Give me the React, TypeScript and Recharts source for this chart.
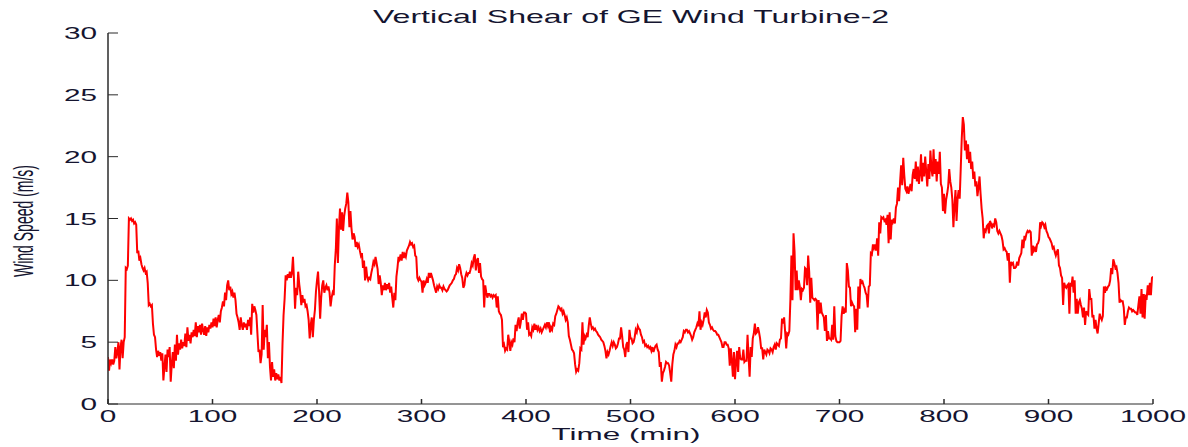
import React from "react";
import { LineChart, Line, XAxis, YAxis } from "recharts";

// Wind speed (m/s), one value per minute; each block starts at the given minute.
const speedFrom0 = [
  3.8, 2.7, 3.6, 3.3, 3.6, 3.2, 3.5, 4.6, 3.7, 4.2,
  5.0, 2.8, 4.6, 5.2, 3.7, 5.0, 5.4, 11.0, 10.9, 11.2,
  15.0, 14.9, 15.0, 14.8, 14.9, 14.6, 14.7, 14.5, 12.2, 12.4,
  11.6, 11.8, 11.3, 11.0, 10.8, 11.0, 10.6, 10.7, 9.8, 8.0,
  8.1, 7.9, 8.0, 6.5, 5.6, 5.4, 4.4, 3.8, 4.3, 3.9,
  4.2, 3.5, 4.1, 1.9, 3.0, 4.0, 2.6, 4.4, 3.8, 4.6,
  1.8, 3.2, 4.2, 2.9, 4.8, 3.5, 5.6, 4.0, 4.9, 4.4,
  5.2, 4.5, 5.0, 4.7, 5.7, 4.6, 6.2, 5.1, 5.6, 4.9,
  5.8, 5.4, 6.0, 5.5, 6.6, 5.4, 6.3, 5.8, 6.4, 5.6,
  6.5, 6.0, 5.6, 6.3, 5.5, 6.2, 5.8, 6.4, 6.1, 6.6,
  6.2, 6.9, 6.3, 7.0, 6.2, 6.8, 7.2, 6.6, 7.5, 7.8,
  8.3, 7.9, 9.0, 8.4, 9.6, 10.0, 9.2, 9.5, 8.9, 9.1,
  8.6, 9.0, 8.4, 7.3, 7.0,
];
const speedFrom125 = [
  6.6, 6.0, 7.0, 6.4, 6.0, 6.6, 6.2, 6.5, 6.0, 6.8,
  6.3, 7.0, 5.6, 8.1, 7.4, 7.9, 7.6, 7.2, 5.7, 4.2,
  4.4, 3.3, 4.0, 8.0, 4.4, 6.0, 5.4, 6.4, 3.7, 5.0,
  3.0, 1.9, 3.4, 2.2, 2.8, 1.9, 2.5, 2.0, 2.4, 1.9,
  2.2, 1.7, 4.9, 7.2, 8.5, 10.4, 10.0, 10.5, 10.2, 10.7,
  10.2, 10.6, 11.9, 10.0, 7.7, 9.4, 8.8, 10.7, 9.7, 9.0,
  8.0, 8.8, 8.2, 8.5, 7.9, 8.0, 7.5, 6.8, 5.3, 6.4,
  7.0, 5.4, 6.8, 7.6, 9.1, 10.0, 10.7, 9.1, 6.9, 8.6,
  9.6, 10.0, 9.0, 9.4, 9.6, 9.2, 9.5, 9.0, 7.9, 8.6,
  9.0, 8.8, 11.2, 12.5, 15.0, 11.4, 14.2, 15.8, 14.1, 15.5,
  14.0, 15.2, 15.8, 16.2, 17.1, 16.3, 14.3, 15.6, 14.2, 13.3,
  13.8, 13.5, 12.7, 13.1, 12.7, 12.9, 12.4, 12.0, 12.2, 11.0,
  11.6, 10.0, 11.1, 10.3, 10.0,
];
const speedFrom250 = [
  10.2, 10.1, 10.6, 11.0, 11.5, 11.3, 11.9, 11.4, 10.9, 9.7,
  10.4, 9.8, 8.8, 9.6, 9.2, 9.8, 9.2, 9.7, 9.3, 9.8,
  9.0, 9.5, 8.6, 7.8, 9.0, 8.4, 10.3, 11.0, 11.9, 11.7,
  12.1, 11.6, 12.3, 11.8, 12.1, 11.9, 12.4, 12.6, 12.8, 13.1,
  12.9, 13.0, 12.7, 12.8, 12.0, 11.9, 10.2, 10.0, 10.2, 10.0,
  9.9, 9.0, 10.0, 9.6, 9.8, 10.1, 9.8, 10.6, 10.2, 10.6,
  10.3, 10.0, 9.6, 9.3, 9.0, 9.5, 9.3, 9.6, 9.4, 9.4,
  9.2, 9.5, 9.3, 9.2, 9.1, 9.2, 9.4, 9.6, 9.7, 9.8,
  10.0, 10.1, 10.4, 10.5, 11.0, 10.8, 11.3, 11.0, 10.5, 10.2,
  9.4, 9.6, 10.3, 10.6, 10.4, 10.6, 10.6, 10.9, 11.4, 11.2,
  11.8, 12.1, 10.8, 11.6, 11.8, 10.6, 11.4, 10.3, 10.1, 10.0,
  7.8, 9.6, 9.0, 8.6, 8.9, 8.9, 8.7, 8.8, 8.6, 8.8,
  8.7, 8.8, 7.8, 8.7, 7.5,
];
const speedFrom375 = [
  7.3, 7.2, 6.8, 4.6, 4.8, 4.3, 4.5, 4.4, 5.6, 5.0,
  4.3, 5.0, 4.8, 5.3, 5.0, 6.4, 5.9, 6.6, 7.0, 6.1,
  6.6, 7.3, 6.8, 7.4, 7.4, 7.3, 6.0, 6.6, 5.6, 5.7,
  5.5, 6.2, 6.0, 6.5, 6.0, 6.4, 6.0, 6.2, 5.9, 6.1,
  5.8, 6.0, 6.2, 6.4, 6.2, 6.6, 6.3, 6.6, 5.8, 6.2,
  6.0, 6.5, 6.4, 7.1, 7.3, 7.6, 7.9, 7.8, 7.6, 7.7,
  7.3, 7.5, 7.2, 6.8, 7.0, 6.6, 5.5, 5.2, 4.8, 4.4,
  4.3, 4.1, 3.2, 2.6, 2.8, 2.7, 3.3, 4.5, 4.4, 6.6,
  4.8, 5.5, 5.3, 5.6, 5.4, 6.3, 7.0, 6.5, 6.1, 6.2,
  6.0, 6.1, 5.9, 5.8, 5.6, 5.5, 5.4, 5.2, 5.1, 5.0,
  4.7, 4.3, 3.7, 4.2, 4.0, 4.3, 4.7, 5.0, 4.7, 5.0,
  4.8, 4.5, 4.6, 4.9, 5.3, 5.3, 6.2, 5.5, 4.6, 4.4,
  3.8, 4.8, 5.0, 4.2, 6.0,
];
const speedFrom500 = [
  5.3, 5.3, 4.9, 5.0, 5.4, 6.0, 5.8, 6.3, 6.1, 6.0,
  5.6, 5.4, 5.0, 5.1, 4.7, 4.8, 4.6, 4.7, 4.5, 4.6,
  4.3, 4.6, 4.2, 4.5, 4.7, 4.8, 4.4, 4.2, 3.0, 3.4,
  1.8, 2.5, 2.7, 3.0, 3.4, 3.3, 3.3, 3.1, 2.5, 1.8,
  3.2, 4.0, 4.3, 4.8, 4.6, 4.9, 4.9, 5.1, 5.0, 5.2,
  5.4, 5.9, 5.8, 6.0, 6.0, 5.8, 5.9, 5.7, 5.5, 5.2,
  5.4, 5.8, 6.0, 6.2, 6.5, 6.3, 7.5, 6.0, 6.6, 6.4,
  6.8, 7.4, 7.0, 7.6, 7.4, 6.6, 6.4, 6.1, 6.2, 6.0,
  5.9, 5.9, 5.8, 5.6, 5.6, 5.4, 5.2, 5.0, 4.6, 4.6,
  5.0, 5.0, 4.8, 4.8, 4.5, 3.1, 4.5, 3.5, 2.2, 4.2,
  2.0, 3.4, 4.3, 2.6, 4.6, 3.7, 3.6, 3.6, 4.4, 3.4,
  3.5, 3.5, 5.6, 3.8, 2.2, 4.6, 3.8, 5.3, 5.7, 6.5,
  5.7, 5.8, 6.2, 5.8, 5.3,
];
const speedFrom625 = [
  4.5, 4.5, 3.6, 4.4, 4.2, 4.0, 4.4, 4.3, 4.1, 4.5,
  4.4, 4.2, 4.6, 4.8, 4.4, 4.9, 4.8, 4.7, 5.2, 5.3,
  6.9, 6.5, 7.0, 5.8, 4.5, 5.7, 5.6, 5.9, 8.4, 12.0,
  8.4, 13.8, 12.3, 9.2, 10.8, 9.2, 10.0, 9.5, 8.4, 9.3,
  9.2, 9.4, 11.0, 10.9, 9.6, 12.0, 10.7, 8.2, 10.2, 8.6,
  8.5, 8.4, 8.5, 8.4, 6.0, 8.4, 7.3, 8.2, 7.4, 7.2,
  7.0, 5.9, 7.2, 5.1, 5.9, 5.3, 5.3, 5.2, 6.4, 5.2,
  7.9, 5.5, 5.1, 5.0, 5.0, 5.0, 5.1, 7.1, 7.9, 7.3,
  7.6, 7.4, 11.4, 10.8, 9.5, 9.4, 7.9, 8.2, 8.0, 7.9,
  5.8, 7.7, 6.0, 9.5, 7.7, 10.1, 9.8, 9.9, 9.6, 9.4,
  9.0, 8.8, 7.8, 9.5, 9.6, 12.2, 12.1, 12.9, 12.6, 12.9,
  12.4, 13.4, 12.0, 14.7, 13.8, 15.1, 15.0, 15.1, 14.8, 14.9,
  14.5, 15.3, 13.0, 15.5, 13.3,
];
const speedFrom750 = [
  14.9, 14.7, 15.0, 14.6, 15.9, 16.2, 17.5, 16.4, 18.0, 19.3,
  17.7, 19.9, 18.5, 17.4, 17.2, 17.6, 17.0, 17.4, 17.8, 17.2,
  18.5, 19.0, 18.2, 19.6, 18.0, 19.2, 17.8, 18.6, 20.2, 18.0,
  19.5, 18.4, 20.0, 18.8, 17.6, 19.4, 18.2, 20.5, 19.0, 18.4,
  20.6, 18.6, 19.8, 18.0, 19.6, 18.6, 20.4, 17.8, 17.5, 15.6,
  17.0, 15.4, 16.5, 17.0, 17.6, 19.0, 18.0, 17.5, 16.5, 14.3,
  16.0, 17.3, 14.8, 16.6, 17.3, 16.6, 19.0, 21.5, 23.2, 22.6,
  20.5, 21.3, 19.8, 21.0, 19.5, 20.4, 19.0, 19.6, 18.2, 18.8,
  17.6, 18.0, 16.8, 17.5, 18.4, 17.0, 15.8, 15.0, 13.4, 14.2,
  14.0, 14.4, 14.5, 13.8, 14.8, 14.6, 14.2, 14.5, 14.4, 15.0,
  14.7, 14.0, 13.8, 14.0, 13.8, 13.6, 13.2, 12.5, 12.6, 12.4,
  12.3, 11.6, 12.2, 9.8, 11.5, 11.3, 11.4, 11.0, 11.0, 11.1,
  11.5, 11.2, 11.8, 12.0, 12.2,
];
const speedFrom875 = [
  13.3, 12.6, 13.6, 13.4, 13.8, 14.0, 13.9, 14.0, 13.9, 12.0,
  12.8, 12.4, 12.6, 12.3, 12.9, 13.0, 13.3, 14.7, 14.4, 14.7,
  14.6, 14.3, 14.5, 14.0, 13.8, 13.5, 13.4, 13.2, 13.0, 12.6,
  12.7, 12.3, 12.0, 12.3, 12.5, 11.2, 11.0, 10.4, 10.2, 8.0,
  9.8, 9.5, 9.4, 9.6, 9.7, 7.3, 9.8, 9.5, 10.3, 9.0,
  10.0, 7.3, 8.5, 7.3, 8.2, 8.4, 8.0, 7.7, 7.0, 7.8,
  6.4, 7.5, 7.3, 7.2, 9.3, 8.5, 8.5, 7.0, 7.2, 6.1,
  6.8, 6.1, 5.7, 6.5, 7.3, 7.0, 6.8, 7.1, 9.5, 9.0,
  9.4, 9.3, 9.5, 9.6, 10.0, 11.0, 10.5, 11.7, 11.4, 11.0,
  11.1, 10.6, 9.8, 8.2, 8.4, 8.3, 8.3, 7.8, 6.4, 7.0,
  7.0, 7.5, 7.8, 7.7, 7.7, 7.5, 7.6, 7.5, 7.4, 7.4,
  7.2, 8.0, 8.7, 7.3, 9.3, 7.0, 8.9, 6.9, 8.7, 8.6,
  9.6, 8.8, 9.8, 8.8, 10.2, 10.3,
];

const blocks: [number, number[]][] = [
  [0, speedFrom0],
  [125, speedFrom125],
  [250, speedFrom250],
  [375, speedFrom375],
  [500, speedFrom500],
  [625, speedFrom625],
  [750, speedFrom750],
  [875, speedFrom875],
];

const xTicks = [0, 100, 200, 300, 400, 500, 600, 700, 800, 900, 1000];
const yTicks = [0, 5, 10, 15, 20, 25, 30];

const titleText = "Vertical Shear of GE Wind Turbine-2";
const xLabelText = "Time (min)";
const yLabelText = "Wind Speed (m/s)";

const data = blocks.flatMap(([start, values]) =>
  values.map((v, i) => ({ minute: start + i, speed: v }))
);

const W = 1188;
const H = 447;
const SX = 1.75; // horizontal stretch of the reference's text
const FONT = "'Liberation Sans', Arial, Helvetica, sans-serif";
const TEXT_COLOR = "#151530";
const AXIS_COLOR = "#2b2b2b";

const BottomTick = (props: any) => {
  const { x, y, payload } = props;
  return (
    <g transform={`translate(${x},${y})`}>
      <line x1={0} y1={0} x2={0} y2={-5} stroke={AXIS_COLOR} strokeWidth={1.5} />
      <text
        transform={`translate(0,18) scale(${SX},1)`}
        textAnchor="middle"
        fontFamily={FONT}
        fontSize={17}
        fill={TEXT_COLOR}
      >
        {payload.value}
      </text>
    </g>
  );
};

const TopTick = (props: any) => {
  const { x, y } = props;
  return (
    <g transform={`translate(${x},${y})`}>
      <line x1={0} y1={0} x2={0} y2={5} stroke={AXIS_COLOR} strokeWidth={1.5} />
    </g>
  );
};

const LeftTick = (props: any) => {
  const { x, y, payload } = props;
  return (
    <g transform={`translate(${x},${y})`}>
      <line x1={0} y1={0} x2={10} y2={0} stroke={AXIS_COLOR} strokeWidth={1} />
      <text
        transform={`translate(-11,0) scale(${SX},1)`}
        textAnchor="end"
        dy="0.36em"
        fontFamily={FONT}
        fontSize={17}
        fill={TEXT_COLOR}
      >
        {payload.value}
      </text>
    </g>
  );
};

const RightTick = (props: any) => {
  const { x, y } = props;
  return (
    <g transform={`translate(${x},${y})`}>
      <line x1={0} y1={0} x2={-10} y2={0} stroke={AXIS_COLOR} strokeWidth={1} />
    </g>
  );
};

export default function App() {
  return (
    <div style={{ position: "absolute", left: 0, top: 0, width: W, height: H, background: "#fff" }}>
      <LineChart
        width={W}
        height={H}
        data={data}
        margin={{ top: 33, right: 35, bottom: 0, left: 0 }}
      >
        <XAxis
          xAxisId="bottom"
          dataKey="minute"
          type="number"
          domain={[0, 1000]}
          ticks={xTicks}
          interval={0}
          height={43}
          tickSize={0}
          tickMargin={0}
          tickLine={false}
          axisLine={{ stroke: AXIS_COLOR, strokeWidth: 1 }}
          tick={<BottomTick />}
          allowDataOverflow
        />
        <XAxis
          xAxisId="top"
          orientation="top"
          dataKey="minute"
          type="number"
          domain={[0, 1000]}
          ticks={xTicks}
          interval={0}
          height={0}
          tickSize={0}
          tickMargin={0}
          tickLine={false}
          axisLine={{ stroke: AXIS_COLOR, strokeWidth: 1 }}
          tick={<TopTick />}
          allowDataOverflow
        />
        <YAxis
          yAxisId="left"
          type="number"
          domain={[0, 30]}
          ticks={yTicks}
          interval={0}
          width={108}
          tickSize={0}
          tickMargin={0}
          tickLine={false}
          axisLine={{ stroke: AXIS_COLOR, strokeWidth: 1.5 }}
          tick={<LeftTick />}
          allowDataOverflow
        />
        <YAxis
          yAxisId="right"
          orientation="right"
          type="number"
          domain={[0, 30]}
          ticks={yTicks}
          interval={0}
          width={0}
          tickSize={0}
          tickMargin={0}
          tickLine={false}
          axisLine={{ stroke: AXIS_COLOR, strokeWidth: 2.5 }}
          tick={<RightTick />}
          allowDataOverflow
        />
        <Line
          xAxisId="bottom"
          yAxisId="left"
          type="linear"
          dataKey="speed"
          stroke="#ff0000"
          strokeWidth={2}
          dot={false}
          activeDot={false}
          isAnimationActive={false}
        />
      </LineChart>
      <svg
        width={W}
        height={H}
        style={{ position: "absolute", left: 0, top: 0, pointerEvents: "none" }}
      >
        <text
          transform={`translate(631,23) scale(1.83,1)`}
          textAnchor="middle"
          fontFamily={FONT}
          fontSize={17.5}
          fill={TEXT_COLOR}
        >
          {titleText}
        </text>
        <text
          transform={`translate(626,440) scale(1.85,1)`}
          textAnchor="middle"
          fontFamily={FONT}
          fontSize={17}
          fill={TEXT_COLOR}
        >
          {xLabelText}
        </text>
        <text
          transform={`translate(33,221) scale(2,1) rotate(-90)`}
          textAnchor="middle"
          fontFamily={FONT}
          fontSize={14}
          fill={TEXT_COLOR}
        >
          {yLabelText}
        </text>
      </svg>
    </div>
  );
}
